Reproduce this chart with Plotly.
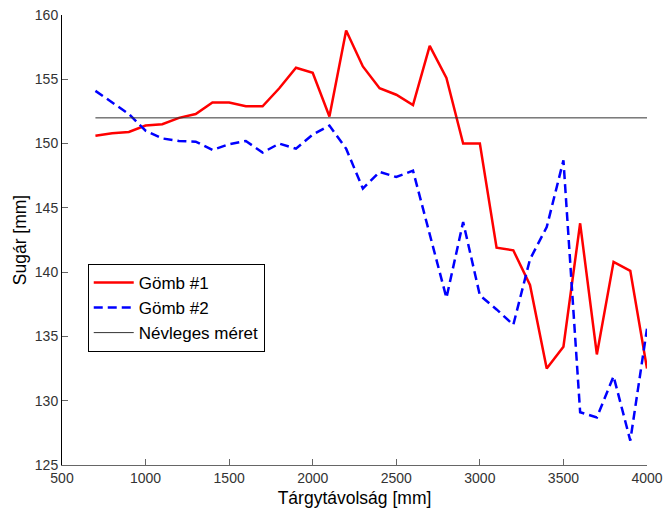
import plotly.graph_objects as go

distance = [700, 800, 900, 1000, 1100, 1200, 1300, 1400, 1500, 1600, 1700, 1800,
            1900, 2000, 2100, 2200, 2300, 2400, 2500, 2600, 2700, 2800, 2900, 3000,
            3100, 3200, 3300, 3400, 3500, 3600, 3700, 3800, 3900, 4000]

gomb1 = [150.6, 150.8, 150.9, 151.4, 151.5, 152.0, 152.3, 153.2, 153.2, 152.9, 152.9, 154.3,
         155.9, 155.5, 152.1, 158.8, 156.0, 154.3, 153.8, 153.0, 157.6, 155.1, 150.0, 150.0,
         141.9, 141.7, 139.0, 132.5, 134.2, 143.8, 133.6, 140.8, 140.1, 132.5]

gomb2 = [154.1, 153.2, 152.3, 151.0, 150.4, 150.2, 150.15, 149.5, 149.95, 150.2, 149.3, 150.0,
         149.6, 150.7, 151.4, 149.6, 146.5, 147.8, 147.4, 147.9, 143.0, 138.0, 143.9, 138.2,
         137.1, 135.9, 141.0, 143.5, 148.7, 129.1, 128.7, 131.9, 126.9, 135.6]

nominal_x = [700, 4000]
nominal_y = [152, 152]

series_names = ["Gömb #1", "Gömb #2", "Névleges méret"]
x_title = "Tárgytávolság [mm]"
y_title = "Sugár [mm]"
x_ticks = [500, 1000, 1500, 2000, 2500, 3000, 3500, 4000]
y_ticks = [125, 130, 135, 140, 145, 150, 155, 160]

FONT = "Liberation Sans, Arial, sans-serif"

fig = go.Figure()
fig.add_trace(go.Scatter(x=distance, y=gomb1, mode="lines", name=series_names[0],
                         line=dict(color="#ff0000", width=2.5)))
fig.add_trace(go.Scatter(x=distance, y=gomb2, mode="lines", name=series_names[1],
                         line=dict(color="#0000ff", width=2.5, dash="9px,5px")))
fig.add_trace(go.Scatter(x=nominal_x, y=nominal_y, mode="lines", name=series_names[2],
                         line=dict(color="#333333", width=1)))

fig.update_layout(
    width=663, height=508,
    margin=dict(l=62, r=16, t=15, b=43),
    paper_bgcolor="white", plot_bgcolor="white",
    font=dict(family=FONT, size=14, color="#333333"),
    showlegend=True,
    legend=dict(x=0.044, y=0.447, xanchor="left", yanchor="top",
                bgcolor="white", bordercolor="black", borderwidth=1,
                font=dict(family=FONT, size=17, color="black"),
                itemwidth=40, tracegroupgap=0),
    xaxis=dict(range=[500, 4000], tickvals=x_ticks, ticks="inside", ticklen=6,
               tickcolor="#666666", showline=True, linecolor="#666666", linewidth=1,
               showgrid=False, zeroline=False, automargin=False,
               tickfont=dict(family=FONT, size=14, color="#333333"),
               title=dict(text=x_title, font=dict(family=FONT, size=17.5, color="black"),
                          standoff=6)),
    yaxis=dict(range=[125, 160], tickvals=y_ticks, ticks="inside", ticklen=6,
               tickcolor="#666666", showline=True, linecolor="black", linewidth=1,
               showgrid=False, zeroline=False, automargin=False,
               tickfont=dict(family=FONT, size=14, color="#333333"),
               title=dict(text=y_title, font=dict(family=FONT, size=17.5, color="black"),
                          standoff=3)),
)

fig.write_html("out.html", config={"displayModeBar": False},
               post_script="document.body.style.margin='0';document.body.style.overflow='hidden';")
